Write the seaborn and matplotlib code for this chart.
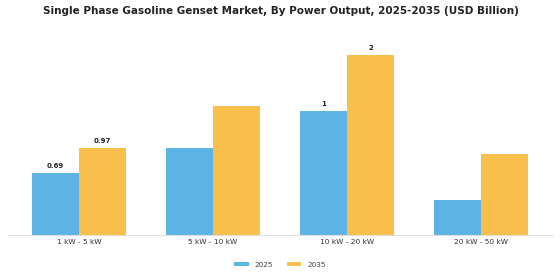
import matplotlib
matplotlib.use("Agg")
import matplotlib.pyplot as plt
import seaborn as sns
import pandas as pd

# données (USD Bn)
categories = ["1 kW - 5 kW", "5 kW - 10 kW", "10 kW - 20 kW", "20 kW - 50 kW"]
years = ["2025", "2035"]
val_2025 = [0.69, 0.97, 1.38, 0.39]
val_2035 = [0.97, 1.43, 2.00, 0.90]
labels_2025 = ["0.69", "", "1", ""]
labels_2035 = ["0.97", "", "2", ""]
colors = ["#5DB3E6", "#F8C04A"]

df = pd.DataFrame({
    "segment": categories * 2,
    "year": [years[0]] * 4 + [years[1]] * 4,
    "value": val_2025 + val_2035,
})

sns.set_theme(style="white")
fig = plt.figure(figsize=(5.6, 2.8), dpi=100)
ax = fig.add_axes([0.014, 0.161, 0.972, 0.732])
sns.barplot(data=df, x="segment", y="value", hue="year", palette=colors,
            width=0.7, saturation=1, linewidth=0, ax=ax,
            order=categories, hue_order=years)

for cont, labs in zip(ax.containers, [labels_2025, labels_2035]):
    ax.bar_label(cont, labels=labs, padding=3, fontsize=5, fontweight="bold", color="#222222")

ax.set_xlim(-0.53, 3.53)
ax.set_ylim(0, 2.28)
ax.set_xlabel(""); ax.set_ylabel("")
ax.set_yticks([])
for s in ["top", "right", "left"]:
    ax.spines[s].set_visible(False)
ax.spines["bottom"].set_color("#dddddd")
ax.spines["bottom"].set_linewidth(0.8)
ax.tick_params(axis="x", labelsize=5.3, colors="#333333", length=0, pad=3)

ax.legend(loc="center", bbox_to_anchor=(0.5, -0.146), ncol=2, frameon=False,
          fontsize=5.2, handlelength=2.0, handleheight=0.55, columnspacing=1.9,
          handletextpad=0.8, labelcolor="#444444")

fig.suptitle("Single Phase Gasoline Genset Market, By Power Output, 2025-2035 (USD Billion)",
             fontsize=7.45, fontweight="bold", x=0.502, y=0.98, color="#222222")
fig.savefig("out.png", dpi=100)
